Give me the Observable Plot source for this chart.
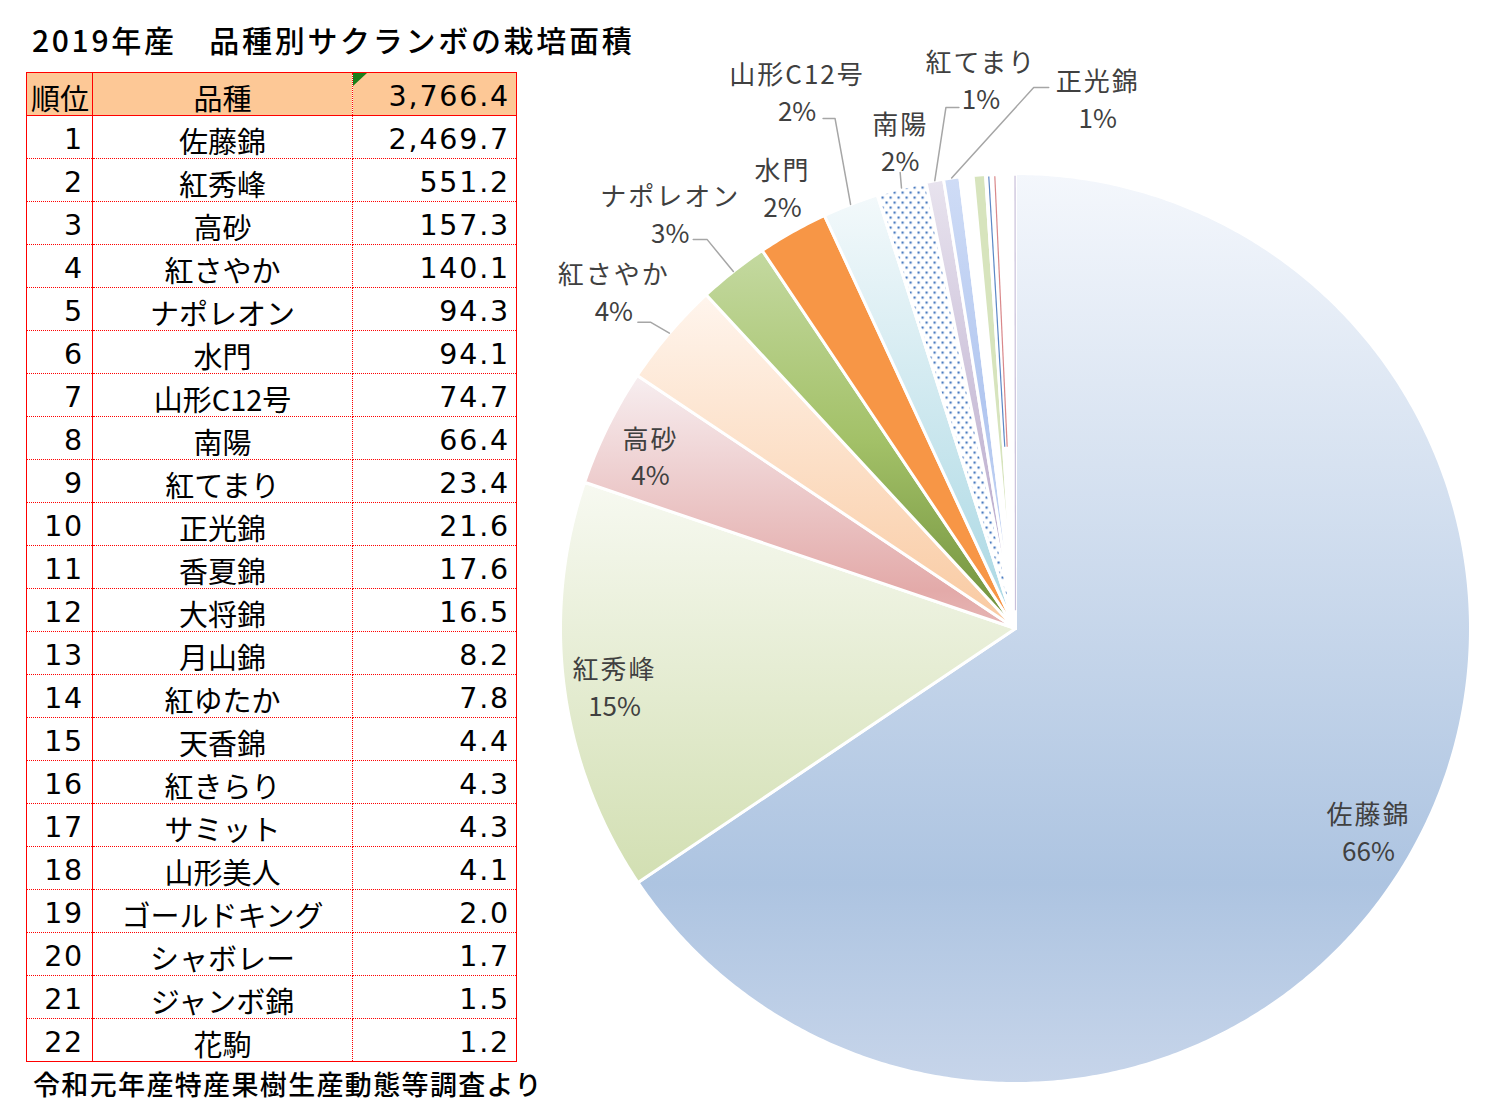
<!DOCTYPE html>
<html><head><meta charset="utf-8">
<script src="https://cdn.jsdelivr.net/npm/d3@7"></script>
<script src="https://cdn.jsdelivr.net/npm/@observablehq/plot@0.6"></script>
<style>
html,body{margin:0;padding:0;background:#fff;}
#page{position:relative;width:1487px;height:1115px;overflow:hidden;font-family:"Noto Sans CJK JP","Noto Sans",sans-serif;color:#000;}
#title{position:absolute;left:32px;top:24px;font-size:30px;line-height:30px;font-weight:500;letter-spacing:2.7px;white-space:nowrap;}
#foot{position:absolute;left:33px;top:1070px;font-size:27px;line-height:27px;font-weight:500;letter-spacing:1.35px;white-space:nowrap;}
#tbl{position:absolute;left:26px;top:72px;border-collapse:collapse;table-layout:fixed;width:490px;border:1.5px solid #f00;font-size:29px;}
#tbl td{height:42px;padding:0;vertical-align:bottom;line-height:36px;border-bottom:1px dotted #f00;white-space:nowrap;position:relative;}
#tbl td.c0{text-align:right;padding-right:8px;border-right:1.5px solid #f00;font-family:"DejaVu Sans",sans-serif;letter-spacing:1.8px;font-size:28.5px;}
#tbl td.c1{text-align:center;border-right:1px dotted #f00;}
#tbl td.c2{text-align:right;padding-right:6px;font-family:"DejaVu Sans",sans-serif;letter-spacing:1.8px;font-size:28.5px;}
#tbl tr.head td{background:#fdc896;border-bottom:1.5px solid #f00;}
#tbl tr.head td.c0{font-family:"Noto Sans CJK JP",sans-serif;letter-spacing:0;font-size:29px;text-align:left;padding-left:4px;}
#tri{position:absolute;left:0;top:0;width:0;height:0;border-top:13px solid #1a7f1a;border-right:14px solid transparent;}
#chart{position:absolute;left:540px;top:0;}
</style></head>
<body><div id="page">
<div id="title">2019年産　品種別サクランボの栽培面積</div>
<table id="tbl"><colgroup><col style="width:66px"><col style="width:260px"><col style="width:164px"></colgroup><tbody id="tb"></tbody></table>
<div id="foot">令和元年産特産果樹生産動態等調査より</div>
<div id="chart"></div>
</div>
<script>
// ---- data ----
const varieties = ["佐藤錦","紅秀峰","高砂","紅さやか","ナポレオン","水門","山形C12号","南陽","紅てまり","正光錦","香夏錦","大将錦","月山錦","紅ゆたか","天香錦","紅きらり","サミット","山形美人","ゴールドキング","シャボレー","ジャンボ錦","花駒"];
const areas = [2469.7,551.2,157.3,140.1,94.3,94.1,74.7,66.4,23.4,21.6,17.6,16.5,8.2,7.8,4.4,4.3,4.3,4.1,2.0,1.7,1.5,1.2];
const headers = ["順位","品種"];
const labeledCount = 10;

// ---- styles (not data) ----
const gradients = {
  g0:[[0,"#f4f7fc"],[0.78,"#adc4e1"],[1,"#c7d5ea"]],
  g1:[[0,"#f7f9f1"],[1,"#d2dfb2"]],
  g2:[[0,"#f7eef0"],[0.85,"#e3aaa9"],[1,"#e6b5b4"]],
  g3:[[0,"#fff5ed"],[1,"#f9c9a0"]],
  g4:[[0,"#c4d9a0"],[0.5,"#a3c168"],[1,"#6f8f3a"]],
  g6:[[0,"#f3f9fb"],[1,"#a8d7e3"]],
  g8:[[0,"#e8e3ee"],[1,"#b1a0c6"]],
  g9:[[0,"#cfdcf6"],[0.5,"#b2c7f0"],[1,"#c9d7f3"]]
};
const sliceFills = ["url(#g0)","url(#g1)","url(#g2)","url(#g3)","url(#g4)","#f79646","url(#g6)","url(#pdots)","url(#g8)","url(#g9)",
  "#ffffff","#d7e4bd","#ffffff","#ffffff","#ffffff","#ffffff","#ffffff","#ffffff","#ffffff","#ffffff","#ffffff","#ffffff"];
const sliceRays = [{i:12,color:"#5b87c5",r0:0.4},{i:13,color:"#d9888a",r0:0.4},{i:21,color:"#c9c0da",r0:0.04}];
// label placement: radius (× pie radius), angle (deg clockwise from 12 o'clock), leader attach offset (px) & elbow x offset (px)
const labelLayout = [
  {r:0.894,a:119.8},{r:0.890,a:261.9},{r:0.888,a:295.4},
  {r:1.154,a:310.1,attach:[24,32],elbow:37},
  {r:1.188,a:320.3,attach:[23,27],elbow:37},
  {r:1.098,a:332.2},
  {r:1.276,a:337.9,attach:[26,28],elbow:38},
  {r:1.102,a:346.7,attach:[0,32]},
  {r:1.211,a:356.4,attach:[-22,29],elbow:-35},
  {r:1.181,a:8.8,attach:[-49,-10],elbow:-64}
];
const W = 947, H = 1115, CX = 475, CY = 628, R = 455;

// ---- table ----
const total = d3.sum(areas);
const fmt = d3.format(",.1f");
const tb = document.getElementById("tb");
const rows = [{c:[headers[0],headers[1],fmt(total)],head:true}].concat(varieties.map((v,i)=>({c:[String(i+1),v,fmt(areas[i])]})));
rows.forEach(row=>{
  const tr = document.createElement("tr");
  if(row.head) tr.className="head";
  row.c.forEach((t,j)=>{
    const td=document.createElement("td"); td.className="c"+j; td.textContent=t;
    if(row.head && j===2){const tri=document.createElement("div"); tri.id="tri"; td.appendChild(tri);}
    tr.appendChild(td);
  });
  tb.appendChild(tr);
});

// ---- pie geometry ----
const TAU = Math.PI*2;
let acc = 0;
const slices = varieties.map((name,i)=>{
  const a0 = acc/total*TAU; acc += areas[i]; const a1 = acc/total*TAU;
  return {name,i,value:areas[i],a0,a1,mid:(a0+a1)/2};
});
const polar = (r,a)=>({x:r*Math.sin(a), y:r*Math.cos(a)});
const slicePts = slices.flatMap(s=>{
  const n = Math.max(2, Math.ceil((s.a1-s.a0)/TAU*720));
  const pts=[{name:s.name,i:s.i,x:0,y:0}];
  for(let k=0;k<=n;k++){const p=polar(1,s.a0+(s.a1-s.a0)*k/n); pts.push({name:s.name,i:s.i,...p});}
  pts.push({name:s.name,i:s.i,x:0,y:0});
  return pts;
});
const rays = sliceRays.map(r=>{const s=slices[r.i]; const p0=polar(r.r0,s.mid), p1=polar(0.995,s.mid); return {x1:p0.x,y1:p0.y,x2:p1.x,y2:p1.y,color:r.color};});
const labels = slices.slice(0,labeledCount).map((s,i)=>{
  const L = labelLayout[i]; const p = polar(L.r, L.a*Math.PI/180);
  return {...p, text: s.name+"\n"+Math.round(s.value/total*100)+"%", s, L};
});
const leaderPts = labels.filter(d=>d.L.attach).flatMap(d=>{
  const e = polar(1.0, d.s.mid);
  const ax = d.x + d.L.attach[0]/R, ay = d.y - d.L.attach[1]/R;
  const pts=[{name:d.s.name,...e}];
  if(d.L.elbow!==undefined) pts.push({name:d.s.name,x:d.x+d.L.elbow/R,y:ay});
  pts.push({name:d.s.name,x:ax,y:ay});
  return pts;
});

const svg = Plot.plot({
  width:W, height:H, margin:0,
  x:{domain:[-1,1], range:[CX-R, CX+R], axis:null},
  y:{domain:[-1,1], range:[CY+R, CY-R], axis:null},
  color:{type:"identity"},
  style:{fontFamily:"'Noto Sans CJK JP', sans-serif", background:"transparent", overflow:"visible"},
  marks:[
    Plot.line(slicePts,{x:"x",y:"y",z:"name",fill:d=>sliceFills[d.i],stroke:"#ffffff",strokeWidth:3,strokeLinejoin:"round"}),
    Plot.link(rays,{x1:"x1",y1:"y1",x2:"x2",y2:"y2",stroke:"color",strokeWidth:1.2}),
    Plot.line(leaderPts,{x:"x",y:"y",z:"name",stroke:"#a6a6a6",strokeWidth:1.5}),
    Plot.text(labels,{x:"x",y:"y",text:"text",fontSize:26,lineHeight:1.42,fill:"#404040"})
  ]
});
// gradient / pattern definitions
const defs = d3.select(svg).insert("defs",":first-child");
Object.entries(gradients).forEach(([id,stops])=>{
  const g = defs.append("linearGradient").attr("id",id).attr("x1",0).attr("y1",0).attr("x2",0).attr("y2",1);
  stops.forEach(([o,c])=>g.append("stop").attr("offset",o).attr("stop-color",c));
});
const pat = defs.append("pattern").attr("id","pdots").attr("patternUnits","userSpaceOnUse").attr("width",8).attr("height",10);
pat.append("rect").attr("width",8).attr("height",10).attr("fill","#ffffff");
pat.append("rect").attr("x",1).attr("y",1).attr("width",2.2).attr("height",2.2).attr("fill","#4a7bc0");
pat.append("rect").attr("x",5).attr("y",6).attr("width",2.2).attr("height",2.2).attr("fill","#4a7bc0");
d3.select(svg).selectAll("text").each(function(){
  d3.select(this).selectAll("tspan").each(function(_,k){ if(k===0) d3.select(this).attr("letter-spacing","2px"); });
});
document.getElementById("chart").appendChild(svg);
</script>
</body></html>
